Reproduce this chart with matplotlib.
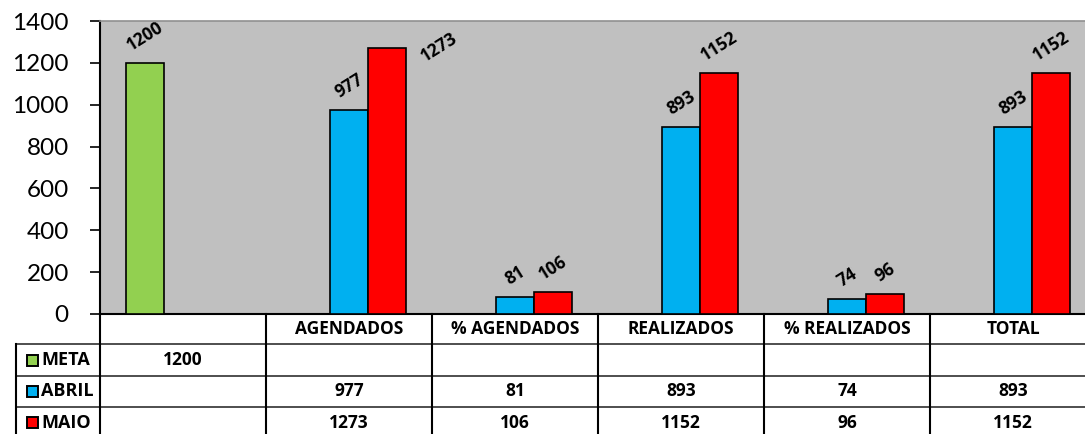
import matplotlib.pyplot as plt
from matplotlib.transforms import blended_transform_factory
from matplotlib.patches import Rectangle
import numpy as np

# dados
categorias = ['', 'AGENDADOS', '% AGENDADOS', 'REALIZADOS', '% REALIZADOS', 'TOTAL']
series = ['META', 'ABRIL', 'MAIO']
meta = [1200, None, None, None, None, None]
abril = [None, 977, 81, 893, 74, 893]
maio = [None, 1273, 106, 1152, 96, 1152]
cores = ['#92D050', '#00B0F0', '#FF0000']

plt.rcParams['font.family'] = ['Lato', 'DejaVu Sans']
fonte_negrito = ['Open Sans', 'DejaVu Sans']

W, H = 1085, 434
fig = plt.figure(figsize=(W / 100, H / 100), dpi=100)
fig.patch.set_facecolor('white')

# area do grafico (em pixels)
left, right, top, bottom = 100, 1096, 21, 314
ax = fig.add_axes([left / W, 1 - bottom / H, (right - left) / W, (bottom - top) / H])
ax.set_facecolor('#C0C0C0')

ymax = 1400
x = np.arange(len(categorias))
largura = 0.23
for k, (nome, vals) in enumerate(zip(series, [meta, abril, maio])):
    xs = [x[i] + (k - 1) * largura for i in range(len(vals)) if vals[i] is not None]
    ys = [v for v in vals if v is not None]
    bars = ax.bar(xs, ys, width=largura, color=cores[k], edgecolor='black', linewidth=1.2, zorder=3)
    for b, v in zip(bars, ys):
        if v > 1220:
            # rotulo nao cabe acima da barra: vai para o lado, como no excel
            ax.annotate(str(v), (b.get_x() + b.get_width(), v), xytext=(8, 0),
                        textcoords='offset points', ha='left', va='center',
                        rotation=32, fontsize=12.5, fontweight='bold', family=fonte_negrito, zorder=4)
        else:
            ax.annotate(str(v), (b.get_x() + b.get_width() / 2, v), xytext=(0, 6),
                        textcoords='offset points', ha='center', va='bottom',
                        rotation=32, fontsize=12.5, fontweight='bold', family=fonte_negrito, zorder=4)

ax.set_xlim(-0.5, len(categorias) - 0.5)
ax.set_ylim(0, ymax)
ax.set_yticks(range(0, ymax + 1, 200))
ax.set_xticks([])
ax.tick_params(axis='y', direction='out', length=7.5, width=1.2, labelsize=17.5, pad=15)
ax.spines['left'].set_linewidth(1.5)
ax.spines['bottom'].set_linewidth(1.5)
ax.spines['top'].set_color('#909090')
ax.spines['top'].set_linewidth(1.2)
ax.spines['right'].set_visible(False)

# tabela de dados abaixo do grafico
tr = blended_transform_factory(ax.transData, ax.transAxes)
ph = bottom - top
linhas = [0, -30 / ph, -62 / ph, -93 / ph, -124 / ph]
x_leg = -0.5 - 84 / 166.0
n = len(categorias)

def linha(xa, xb, ya, yb, cor='black', lw=1.5):
    ax.plot([xa, xb], [ya, yb], color=cor, lw=lw, transform=tr, clip_on=False, zorder=5)

# horizontais
for yy in linhas[1:-1]:
    linha(x_leg, n - 0.5, yy, yy, cor='#404040', lw=1.3)
# verticais
for i in range(n + 1):
    linha(i - 0.5, i - 0.5, 0, linhas[-1], lw=1.5)
linha(x_leg, x_leg, linhas[1], linhas[-1], lw=1.5)

fs = 12.5
for i, c in enumerate(categorias):
    ax.text(i, (linhas[0] + linhas[1]) / 2, c, transform=tr, ha='center', va='center',
            fontsize=fs, fontweight='bold', family=fonte_negrito, clip_on=False)

for k, (nome, vals) in enumerate(zip(series, [meta, abril, maio])):
    yc = (linhas[k + 1] + linhas[k + 2]) / 2
    ax.add_patch(Rectangle((x_leg + 11 / 166.0, yc - 5.5 / ph), 11 / 166.0, 11 / ph,
                           transform=tr, facecolor=cores[k], edgecolor='black', lw=1.4,
                           clip_on=False, zorder=6))
    ax.text(x_leg + 25 / 166.0, yc, nome, transform=tr, ha='left', va='center',
            fontsize=13, fontweight='bold', family=fonte_negrito, clip_on=False)
    for i, v in enumerate(vals):
        if v is not None:
            ax.text(i, yc, str(v), transform=tr, ha='center', va='center',
                    fontsize=fs, fontweight='bold', family=fonte_negrito, clip_on=False)

fig.savefig('out.png', dpi=100)
